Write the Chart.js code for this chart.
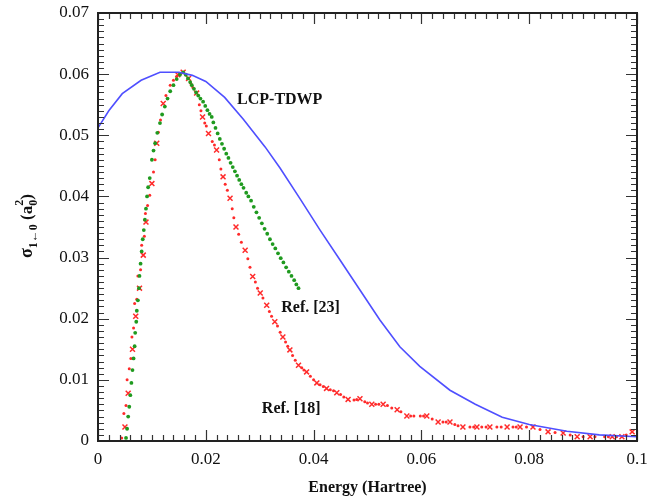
<!DOCTYPE html>
<html lang="en">
<head>
  <meta charset="UTF-8">
  <title>Excitation cross section</title>
  <script src="https://cdn.jsdelivr.net/npm/chart.js"></script>
  <style>
    body { margin: 0; padding: 0; background: #fff; }
    canvas { display: block; }
  </style>
</head>
<body>
  <canvas id="chart" width="650" height="501"></canvas>

  <script>
    // x ticks / y ticks
    const xTickLabels = ['0', '0.02', '0.04', '0.06', '0.08', '0.1'];
    const yTickLabels = ['0', '0.01', '0.02', '0.03', '0.04', '0.05', '0.06', '0.07'];

    // LCP-TDWP (blue line)
    const lcpX = [0, 0.002, 0.0045, 0.008, 0.0115, 0.015, 0.0175, 0.02, 0.0235, 0.027, 0.031, 0.0338, 0.0375, 0.0412,
                  0.0449, 0.0486, 0.0523, 0.056, 0.0597, 0.0653, 0.07, 0.075, 0.08, 0.087, 0.093, 0.1];
    const lcpY = [0.0512, 0.054, 0.0568, 0.059, 0.0603, 0.0603, 0.0598, 0.0588, 0.0562, 0.0526, 0.0481, 0.0446, 0.0396, 0.0345,
                  0.0296, 0.0247, 0.0198, 0.0154, 0.0122, 0.0083, 0.0060, 0.0039, 0.0027, 0.0016, 0.001, 0.0007];

    // Ref. [23] (green dots)
    const ref23X = [0.0052, 0.0054, 0.0056, 0.0058, 0.0060, 0.0062, 0.0064, 0.0066, 0.0068, 0.0069, 0.0071, 0.0072, 0.0074,
                    0.0076, 0.0077, 0.0079, 0.0081, 0.0083, 0.0085, 0.0087, 0.0089, 0.0091, 0.0093, 0.0096, 0.0100, 0.0103,
                    0.0106, 0.0110, 0.0115, 0.0119, 0.0124, 0.0129, 0.0134, 0.0140, 0.0146, 0.0152, 0.0158, 0.0163, 0.0167,
                    0.0171, 0.0174, 0.0178, 0.0182, 0.0186, 0.0190, 0.0195, 0.0199, 0.0203, 0.0207, 0.0211, 0.0214, 0.0218,
                    0.0222, 0.0226, 0.0230, 0.0234, 0.0238, 0.0242, 0.0246, 0.0250, 0.0254, 0.0258, 0.0262, 0.0266, 0.0270,
                    0.0275, 0.0279, 0.0284, 0.0289, 0.0294, 0.0299, 0.0304, 0.0309, 0.0314, 0.0319, 0.0324, 0.0329, 0.0334,
                    0.0339, 0.0344, 0.0349, 0.0354, 0.0359, 0.0364, 0.0368, 0.0372];
    const ref23Y = [0.0005, 0.0020, 0.0040, 0.0056, 0.0075, 0.0095, 0.0116, 0.0135, 0.0155, 0.0177, 0.0195, 0.0213, 0.0230,
                    0.0250, 0.0270, 0.0290, 0.0310, 0.0330, 0.0345, 0.0362, 0.0380, 0.0400, 0.0415, 0.0430, 0.0460, 0.0475,
                    0.0487, 0.0504, 0.0520, 0.0534, 0.0547, 0.0560, 0.0572, 0.0582, 0.0592, 0.0599, 0.0603, 0.0599, 0.0593,
                    0.0587, 0.0582, 0.0576, 0.0570, 0.0565, 0.0560, 0.0555, 0.0548, 0.0541, 0.0535, 0.0530, 0.0521, 0.0512,
                    0.0503, 0.0494, 0.0486, 0.0478, 0.0470, 0.0463, 0.0455, 0.0448, 0.0441, 0.0434, 0.0427, 0.0420, 0.0414,
                    0.0406, 0.0400, 0.0393, 0.0383, 0.0374, 0.0365, 0.0356, 0.0347, 0.0339, 0.0330, 0.0322, 0.0315, 0.0307,
                    0.0299, 0.0292, 0.0284, 0.0277, 0.0270, 0.0263, 0.0256, 0.0250];

    // Ref. [18] (red dots and crosses)
    const ref18DotX = [0.0044, 0.0048, 0.0052, 0.0054, 0.0058, 0.0061, 0.0063, 0.0066, 0.0068, 0.0072, 0.0074, 0.0079, 0.0081,
                       0.0086, 0.0088, 0.0092, 0.0096, 0.0103, 0.0106, 0.0112, 0.0116, 0.0126, 0.0134, 0.0140, 0.0146, 0.0152,
                       0.0162, 0.0172, 0.0176, 0.0188, 0.0191, 0.0198, 0.0201, 0.0212, 0.0216, 0.0225, 0.0228, 0.0236, 0.0240,
                       0.0249, 0.0252, 0.0261, 0.0266, 0.0278, 0.0282, 0.0292, 0.0296, 0.0306, 0.0318, 0.0322, 0.0333, 0.0338,
                       0.0348, 0.0352, 0.0361, 0.0366, 0.0378, 0.0382, 0.0394, 0.0400, 0.0412, 0.0418, 0.0431, 0.0437, 0.0450,
                       0.0456, 0.0475, 0.0480, 0.0495, 0.0500, 0.0515, 0.0521, 0.0537, 0.0545, 0.0562, 0.0580, 0.0586, 0.0598,
                       0.0604, 0.0620, 0.0640, 0.0646, 0.0662, 0.0668, 0.0690, 0.0697, 0.0712, 0.0720, 0.0740, 0.0748, 0.0770,
                       0.0776, 0.0795, 0.0820, 0.0848, 0.0876, 0.0900, 0.0922, 0.0940, 0.0947, 0.0962, 0.0980];
    const ref18DotY = [0.0005, 0.0045, 0.0058, 0.0100, 0.0118, 0.0135, 0.0170, 0.0185, 0.0225, 0.0232, 0.0270, 0.0280, 0.0320,
                       0.0335, 0.0372, 0.0385, 0.0402, 0.0440, 0.0460, 0.0505, 0.0525, 0.0565, 0.0582, 0.0590, 0.0596, 0.0601,
                       0.0600, 0.0585, 0.0578, 0.0550, 0.0540, 0.0520, 0.0515, 0.0490, 0.0484, 0.0460, 0.0445, 0.0420, 0.0410,
                       0.0380, 0.0365, 0.0338, 0.0325, 0.0298, 0.0284, 0.0260, 0.0250, 0.0234, 0.0212, 0.0204, 0.0188, 0.0178,
                       0.0162, 0.0155, 0.0140, 0.0132, 0.0120, 0.0116, 0.0106, 0.0100, 0.0092, 0.0089, 0.0084, 0.0082, 0.0076,
                       0.0072, 0.0067, 0.0068, 0.0064, 0.0062, 0.0060, 0.0060, 0.0058, 0.0054, 0.0048, 0.0041, 0.0041, 0.0041,
                       0.0041, 0.0036, 0.0031, 0.0031, 0.0027, 0.0025, 0.0023, 0.0023, 0.0023, 0.0023, 0.0023, 0.0023, 0.0023,
                       0.0023, 0.0023, 0.0019, 0.0014, 0.0010, 0.0007, 0.0007, 0.0007, 0.0007, 0.0007, 0.0010];
    const ref18CrossX = [0.0050, 0.0056, 0.0064, 0.0070, 0.0077, 0.0084, 0.0089, 0.0100, 0.0109, 0.0121, 0.0148, 0.0158,
                         0.0168, 0.0183, 0.0194, 0.0205, 0.0220, 0.0232, 0.0245, 0.0256, 0.0273, 0.0287, 0.0301, 0.0313,
                         0.0328, 0.0343, 0.0356, 0.0372, 0.0387, 0.0406, 0.0424, 0.0443, 0.0464, 0.0486, 0.0508, 0.0529,
                         0.0555, 0.0573, 0.0610, 0.0631, 0.0653, 0.0677, 0.0703, 0.0727, 0.0759, 0.0783, 0.0807, 0.0835,
                         0.0863, 0.0889, 0.0913, 0.0954, 0.0972, 0.0991];
    const ref18CrossY = [0.0023, 0.0078, 0.0150, 0.0204, 0.0250, 0.0304, 0.0358, 0.0421, 0.0487, 0.0552, 0.0599, 0.0603,
                         0.0593, 0.0569, 0.0530, 0.0503, 0.0476, 0.0432, 0.0397, 0.0350, 0.0312, 0.0269, 0.0242, 0.0222,
                         0.0195, 0.0170, 0.0149, 0.0124, 0.0113, 0.0095, 0.0086, 0.0079, 0.0068, 0.0069, 0.0060, 0.0060,
                         0.0051, 0.0041, 0.0041, 0.0031, 0.0031, 0.0023, 0.0023, 0.0023, 0.0023, 0.0023, 0.0023, 0.0015,
                         0.0013, 0.0007, 0.0007, 0.0007, 0.0007, 0.0015];

    // curve labels: text, x, y (data units, left / middle)
    const curveLabels = [
      ['LCP-TDWP', 0.0258, 0.0558],
      ['Ref. [23]', 0.0340, 0.0218],
      ['Ref. [18]', 0.0304, 0.0053]
    ];

    const pairs = (xs, ys) => xs.map((x, i) => ({ x: x, y: ys[i] }));
    const serif = '"Liberation Serif", "DejaVu Serif", serif';

    // inward ticks on all four sides, major + minor
    const frameTicks = {
      id: 'frameTicks',
      afterDatasetsDraw(chart) {
        const { ctx, chartArea: a, scales: { x, y } } = chart;
        ctx.save();
        ctx.strokeStyle = '#333';
        ctx.lineWidth = 1.2;
        ctx.beginPath();
        for (let i = 0; i <= 50; i++) {
          const px = Math.round(x.getPixelForValue(i * 0.002)) + 0.5;
          const len = i % 10 === 0 ? 11 : 6;
          ctx.moveTo(px, a.bottom); ctx.lineTo(px, a.bottom - len);
          ctx.moveTo(px, a.top); ctx.lineTo(px, a.top + len);
        }
        for (let i = 0; i <= 70; i++) {
          const py = Math.round(y.getPixelForValue(i * 0.001)) + 0.5;
          const len = i % 10 === 0 ? 11 : 6;
          ctx.moveTo(a.left, py); ctx.lineTo(a.left + len, py);
          ctx.moveTo(a.right, py); ctx.lineTo(a.right - len, py);
        }
        ctx.stroke();
        ctx.lineWidth = 2;
        ctx.strokeStyle = '#222';
        ctx.strokeRect(a.left, a.top, a.right - a.left, a.bottom - a.top);

        // curve labels
        ctx.fillStyle = '#111';
        ctx.font = 'bold 16px ' + serif;
        ctx.textBaseline = 'middle';
        ctx.textAlign = 'left';
        curveLabels.forEach(([t, lx, ly]) => {
          ctx.fillText(t, x.getPixelForValue(lx), y.getPixelForValue(ly));
        });

        // y axis title with sub/superscripts
        const parts = [
          ['σ', 18, 0], ['1←0', 12, 5], [' (a', 17, 0], ['0', 12, 5], ['2', 12, -9], [')', 17, 0]
        ];
        const widths = parts.map(([t, s]) => {
          ctx.font = 'bold ' + s + 'px ' + serif;
          return ctx.measureText(t).width;
        });
        const total = widths.reduce((s, w, i) => s + (i === 3 ? 0 : w), 0);
        ctx.translate(26, 226);
        ctx.rotate(-Math.PI / 2);
        ctx.textBaseline = 'alphabetic';
        let cx = -total / 2;
        parts.forEach(([t, s, dy], i) => {
          ctx.font = 'bold ' + s + 'px ' + serif;
          ctx.fillText(t, cx, 6 + dy);
          if (i !== 3) cx += widths[i];
        });
        ctx.restore();
      }
    };

    new Chart(document.getElementById('chart'), {
      type: 'scatter',
      data: {
        datasets: [
          {
            label: 'LCP-TDWP',
            data: pairs(lcpX, lcpY),
            showLine: true,
            borderColor: '#4f4fff',
            borderWidth: 1.6,
            pointRadius: 0,
            tension: 0
          },
          {
            label: 'Ref. [23]',
            data: pairs(ref23X, ref23Y),
            backgroundColor: '#1f9a1f',
            borderWidth: 0,
            pointRadius: 1.9
          },
          {
            label: 'Ref. [18] dots',
            data: pairs(ref18DotX, ref18DotY),
            backgroundColor: '#ff2a2a',
            borderWidth: 0,
            pointRadius: 1.5
          },
          {
            label: 'Ref. [18]',
            data: pairs(ref18CrossX, ref18CrossY),
            pointStyle: 'crossRot',
            borderColor: '#ff2a2a',
            borderWidth: 1.5,
            pointRadius: 3.5
          }
        ]
      },
      options: {
        responsive: false,
        animation: false,
        layout: { padding: { top: 13, right: 13, left: 0, bottom: 0 } },
        scales: {
          x: {
            type: 'linear', min: 0, max: 0.1,
            grid: { display: false, drawTicks: false },
            border: { display: false },
            ticks: {
              stepSize: 0.02, color: '#111', padding: 8,
              font: { family: serif, size: 17 },
              callback: (v) => xTickLabels[Math.round(v / 0.02)]
            },
            title: {
              display: true, text: 'Energy (Hartree)', color: '#111',
              font: { family: serif, size: 16, weight: 'bold' }, padding: { top: 6 }
            },
            afterFit: (s) => { s.height = 60; s.paddingLeft = 0; s.paddingRight = 0; }
          },
          y: {
            type: 'linear', min: 0, max: 0.07,
            grid: { display: false, drawTicks: false },
            border: { display: false },
            ticks: {
              stepSize: 0.01, color: '#111', padding: 9,
              font: { family: serif, size: 17 },
              callback: (v) => yTickLabels[Math.round(v / 0.01)]
            },
            afterFit: (s) => { s.width = 98; s.paddingTop = 0; s.paddingBottom = 0; }
          }
        },
        plugins: { legend: { display: false }, tooltip: { enabled: false } }
      },
      plugins: [frameTicks]
    });
  </script>
</body>
</html>
